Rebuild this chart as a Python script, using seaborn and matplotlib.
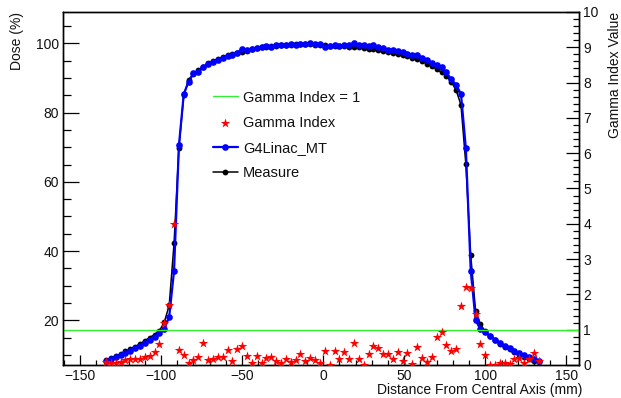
import matplotlib
matplotlib.use("Agg")
import matplotlib.pyplot as plt
from matplotlib.ticker import MultipleLocator
import pandas as pd
import seaborn as sns

# Off-axis positions of the profile samples (mm)
x_mm = [-134, -131, -128, -125, -122, -119, -116, -113, -110, -107,
        -104, -101, -98, -95, -92, -89, -86, -83, -80, -77,
        -74, -71, -68, -65, -62, -59, -56, -53, -50, -47,
        -44, -41, -38, -35, -32, -29, -26, -23, -20, -17,
        -14, -11, -8, -5, -2, 1, 4, 7, 10, 13,
        16, 19, 22, 25, 28, 31, 34, 37, 40, 43,
        46, 49, 52, 55, 58, 61, 64, 67, 70, 73,
        76, 79, 82, 85, 88, 91, 94, 97, 100, 103,
        106, 109, 112, 115, 118, 121, 124, 127, 130, 133]

# Measured relative dose (%)
dose_measure = [8.5, 9.1, 9.7, 10.3, 11.0, 11.7, 12.4, 13.2, 14.1, 15.0,
                15.9, 17.0, 19.5, 24.3, 42.2, 69.8, 85.0, 89.5, 91.2, 92.3,
                93.3, 94.2, 94.9, 95.5, 96.0, 96.5, 96.9, 97.3, 97.6, 97.9,
                98.3, 98.6, 98.8, 99.0, 99.2, 99.3, 99.4, 99.5, 99.6, 99.7,
                99.8, 99.8, 99.7, 99.6, 99.5, 99.4, 99.3, 99.3, 99.2, 99.1,
                99.0, 98.9, 98.8, 98.7, 98.5, 98.3, 98.0, 97.7, 97.4, 97.1,
                96.8, 96.5, 96.2, 95.8, 95.4, 94.8, 94.1, 93.4, 92.6, 91.6,
                90.5, 88.9, 86.5, 82.2, 65.1, 38.8, 22.8, 18.8, 16.8, 15.4,
                14.3, 13.3, 12.4, 11.6, 10.8, 10.1, 9.5, 8.9, 8.3, 7.9]

# Simulated relative dose (%), G4Linac_MT
dose_g4linac = [8.3, 8.8, 9.3, 9.9, 10.5, 11.2, 11.9, 12.6, 13.4, 14.3,
                15.2, 16.2, 17.5, 21.0, 34.3, 70.5, 85.4, 88.9, 91.3, 91.8,
                93.2, 93.9, 94.7, 95.2, 95.8, 96.3, 96.6, 97.3, 98.4, 98.2,
                98.4, 98.7, 98.9, 99.1, 99.0, 99.4, 99.5, 99.4, 99.7, 99.6,
                99.9, 99.8, 100.0, 99.7, 99.8, 98.8, 99.2, 99.5, 99.3, 99.4,
                99.6, 100.0, 99.4, 99.5, 99.2, 99.5, 98.9, 98.6, 98.2, 98.0,
                97.7, 97.5, 97.0, 96.7, 96.6, 95.9, 95.3, 94.4, 93.7, 93.2,
                91.6, 89.6, 88.0, 85.4, 69.7, 34.3, 20.1, 17.4, 16.5, 15.4,
                14.4, 13.5, 12.7, 11.9, 11.2, 10.5, 9.9, 9.3, 8.8, 8.3]

# Gamma index at each sample
gamma_index = [0.09, 0.05, 0.05, 0.09, 0.14, 0.17, 0.17, 0.17, 0.22, 0.26,
               0.38, 0.59, 1.18, 1.70, 4.00, 0.42, 0.28, 0.07, 0.14, 0.22,
               0.61, 0.14, 0.16, 0.24, 0.22, 0.42, 0.11, 0.44, 0.55, 0.25,
               0.05, 0.25, 0.07, 0.21, 0.24, 0.11, 0.05, 0.16, 0.09, 0.14,
               0.30, 0.11, 0.19, 0.14, 0.07, 0.41, 0.00, 0.41, 0.16, 0.38,
               0.16, 0.61, 0.16, 0.00, 0.31, 0.54, 0.47, 0.30, 0.30, 0.16,
               0.38, 0.11, 0.35, 0.02, 0.52, 0.19, 0.09, 0.22, 0.80, 0.93,
               0.57, 0.41, 0.44, 1.67, 2.22, 2.17, 1.44, 0.59, 0.28, 0.00,
               0.00, 0.05, 0.05, 0.03, 0.16, 0.19, 0.07, 0.16, 0.35, 0.11]

gamma_threshold = 1.0

df = pd.DataFrame({"x": x_mm, "measure": dose_measure,
                   "g4": dose_g4linac, "gamma": gamma_index})

sns.set_theme(style="white")
plt.rcParams["font.family"] = ["Liberation Sans", "DejaVu Sans"]

W, H = 621, 398
fig = plt.figure(figsize=(W / 100, H / 100), dpi=100)
L, R, T, B = 63, 579, 12, 365
ax = fig.add_axes([L / W, 1 - B / H, (R - L) / W, (B - T) / H])

sns.lineplot(data=df, x="x", y="measure", ax=ax, color="black",
             linewidth=1.1, marker="o", markersize=4.2, markeredgewidth=0,
             sort=False, label="Measure", zorder=2)
sns.lineplot(data=df, x="x", y="g4", ax=ax, color="#0000ff",
             linewidth=1.6, marker="o", markersize=4.8, markeredgewidth=0,
             sort=False, label="G4Linac_MT", zorder=3)

ax.set_xlim(-160.5, 157.8)
ax.set_ylim(7.1, 109.05)
ax.xaxis.set_major_locator(MultipleLocator(50))
ax.xaxis.set_minor_locator(MultipleLocator(10))
ax.yaxis.set_major_locator(MultipleLocator(20))
ax.yaxis.set_minor_locator(MultipleLocator(5))

ax2 = ax.twinx()
ax2.axhline(gamma_threshold, color="#33ee33", linewidth=1.0,
            label="Gamma Index = 1", zorder=1)
sns.scatterplot(data=df, x="x", y="gamma", ax=ax2, color="#ff0000",
                marker="*", s=52, linewidth=0, label="Gamma Index",
                zorder=4)
ax2.set_ylim(0, 10)
ax2.yaxis.set_major_locator(MultipleLocator(1))
ax2.yaxis.set_minor_locator(MultipleLocator(0.2))
ax2.set_ylabel("")

for a in (ax, ax2):
    for s in a.spines.values():
        s.set_visible(True)
        s.set_color("black")
        s.set_linewidth(1.0)
    a.grid(False)

ax.tick_params(axis="x", which="major", direction="in", length=7.5,
               width=0.9, color="black", labelsize=10, pad=3,
               top=False, bottom=True, labelcolor="#111111")
ax.tick_params(axis="x", which="minor", direction="in", length=3.8,
               width=0.9, color="black", top=False, bottom=True)
ax.tick_params(axis="y", which="major", direction="in", length=11.5,
               width=0.9, color="black", labelsize=10, pad=3,
               left=True, right=False, labelcolor="#111111")
ax.tick_params(axis="y", which="minor", direction="in", length=6,
               width=0.9, color="black", left=True, right=False)
ax2.tick_params(axis="y", which="major", direction="in", length=9.5,
                width=0.9, color="black", labelsize=10, pad=3,
                left=False, right=True, labelcolor="#111111")
ax2.tick_params(axis="y", which="minor", direction="in", length=4.5,
                width=0.9, color="black", left=False, right=True)

ax.set_xlabel("")
ax.set_ylabel("")
fig.text(582.7 / W, 1 - 390 / H, "Distance From Central Axis (mm)",
         ha="right", va="center", fontsize=10, color="#111111")
fig.text(17 / W, 1 - 12 / H, "Dose (%)", rotation=90,
         ha="center", va="top", fontsize=10, color="#111111")
fig.text(615 / W, 1 - 12 / H, "Gamma Index Value", rotation=90,
         ha="center", va="top", fontsize=10, color="#111111")

# Legend collects entries from both axes
h1, l1 = ax.get_legend_handles_labels()
h2, l2 = ax2.get_legend_handles_labels()
ax.get_legend().remove()
ax2.get_legend().remove()
handles = dict(zip(l1 + l2, h1 + h2))
order = ["Gamma Index = 1", "Gamma Index", "G4Linac_MT", "Measure"]
leg = ax2.legend([handles[k] for k in order], order,
                 loc="upper left", bbox_to_anchor=(213 / W, 1 - 90.5 / H),
                 bbox_transform=fig.transFigure, frameon=False,
                 fontsize=10.5, handlelength=1.7, handletextpad=0.35,
                 labelspacing=0.76, borderpad=0, borderaxespad=0,
                 markerscale=1.0)
for t in leg.get_texts():
    t.set_color("#111111")

fig.savefig("out.png", dpi=100)
